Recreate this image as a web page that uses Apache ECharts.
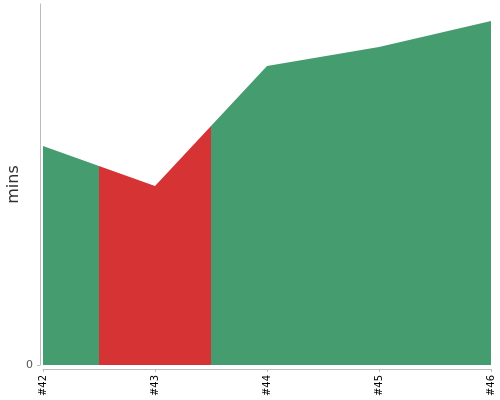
<!DOCTYPE html>
<html>
<head>
<meta charset="utf-8">
<script src="https://cdn.jsdelivr.net/npm/echarts@6/dist/echarts.min.js"></script>
<style>html,body{margin:0;padding:0;background:#fff}#c{width:500px;height:400px}</style>
</head>
<body>
<div id="c"></div>
<script>
var builds = ['#42', '#43', '#44', '#45', '#46'];
var durations = [21.9, 17.9, 29.9, 31.8, 34.4];
var failedBuildIndex = [1];
var yTicks = [0];
var yMax = 36.1;

var GREEN = '#459c6e';
var RED = '#d63434';

var pieces = failedBuildIndex.map(function (i) {
  return { gt: i - 0.5, lte: i + 0.5, color: RED };
});
var seriesData = durations.map(function (v, i) { return [i, v]; });

var chart = echarts.init(document.getElementById('c'), null, { renderer: 'canvas' });
chart.setOption({
  animation: false,
  textStyle: { fontFamily: 'DejaVu Sans' },
  grid: { left: 43, right: 9, top: 4, bottom: 35, containLabel: false, outerBoundsMode: 'none' },
  xAxis: {
    type: 'value',
    min: 0,
    max: builds.length - 1,
    interval: 1,
    offset: 4,
    axisLine: { onZero: false, lineStyle: { color: '#bbbbbb', width: 1 } },
    axisTick: { show: true, length: 3, lineStyle: { color: '#bbbbbb' } },
    axisLabel: {
      rotate: 90, margin: 6, fontSize: 10, color: '#000', fontFamily: 'DejaVu Sans',
      showMinLabel: true, showMaxLabel: true,
      formatter: function (v) { return builds[Math.round(v)] || ''; }
    },
    splitLine: { show: false }
  },
  yAxis: {
    type: 'value',
    min: 0,
    max: yMax,
    offset: 3,
    name: 'mins',
    nameLocation: 'middle',
    nameRotate: 90,
    nameGap: 18,
    nameMoveOverlap: false,
    nameTextStyle: { fontSize: 16, color: '#333', fontFamily: 'DejaVu Sans' },
    axisLine: { show: true, onZero: false, lineStyle: { color: '#bbbbbb', width: 1 } },
    axisTick: { show: true, length: 3, customValues: yTicks, lineStyle: { color: '#bbbbbb' } },
    axisLabel: { customValues: yTicks, fontSize: 11, color: '#555', margin: 7, fontFamily: 'DejaVu Sans' },
    splitLine: { show: false }
  },
  visualMap: {
    type: 'piecewise',
    show: false,
    dimension: 0,
    seriesIndex: 0,
    pieces: pieces,
    outOfRange: { color: GREEN }
  },
  series: [{
    type: 'line',
    data: seriesData,
    symbol: 'none',
    showSymbol: false,
    lineStyle: { width: 0 },
    areaStyle: { opacity: 1 }
  }]
});
</script>
</body>
</html>
